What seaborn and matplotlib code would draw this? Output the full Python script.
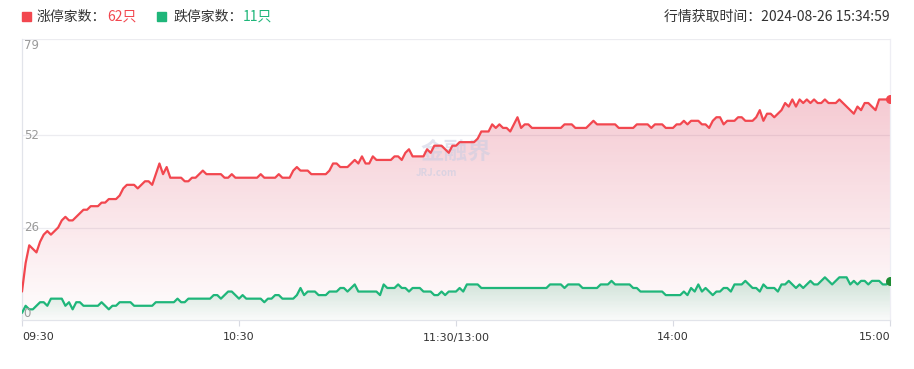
import numpy as np
import pandas as pd
import seaborn as sns
import matplotlib.pyplot as plt
from matplotlib.patches import Polygon

# minute-by-minute counts, 09:30 .. 11:30 / 13:01 .. 15:00 (241 points)
limit_up = [
    8, 16, 21, 20, 19, 22, 24, 25, 24, 25,
    26, 28, 29, 28, 28, 29, 30, 31, 31, 32,
    32, 32, 33, 33, 34, 34, 34, 35, 37, 38,
    38, 38, 37, 38, 39, 39, 38, 41, 44, 41,
    43, 40, 40, 40, 40, 39, 39, 40, 40, 41,
    42, 41, 41, 41, 41, 41, 40, 40, 41, 40,
    40, 40, 40, 40, 40, 40, 41, 40, 40, 40,
    40, 41, 40, 40, 40, 42, 43, 42, 42, 42,
    41, 41, 41, 41, 41, 42, 44, 44, 43, 43,
    43, 44, 45, 44, 46, 44, 44, 46, 45, 45,
    45, 45, 45, 46, 46, 45, 47, 48, 46, 46,
    46, 46, 48, 47, 49, 49, 49, 48, 47, 49,
    49, 50, 50, 50, 50, 50, 51, 53, 53, 53,
    55, 54, 55, 54, 54, 53, 55, 57, 54, 55,
    55, 54, 54, 54, 54, 54, 54, 54, 54, 54,
    55, 55, 55, 54, 54, 54, 54, 55, 56, 55,
    55, 55, 55, 55, 55, 54, 54, 54, 54, 54,
    55, 55, 55, 55, 54, 55, 55, 55, 54, 54,
    54, 55, 55, 56, 55, 56, 56, 56, 55, 55,
    54, 56, 57, 57, 55, 56, 56, 56, 57, 57,
    56, 56, 56, 57, 59, 56, 58, 58, 57, 58,
    59, 61, 60, 62, 60, 62, 61, 62, 61, 62,
    61, 61, 62, 61, 61, 61, 62, 61, 60, 59,
    58, 60, 59, 61, 61, 60, 59, 62, 62, 62, 62,
]
limit_down = [
    2, 4, 3, 3, 4, 5, 5, 4, 6, 6,
    6, 6, 4, 5, 3, 5, 5, 4, 4, 4,
    4, 4, 5, 4, 3, 4, 4, 5, 5, 5,
    5, 4, 4, 4, 4, 4, 4, 5, 5, 5,
    5, 5, 5, 6, 5, 5, 6, 6, 6, 6,
    6, 6, 6, 7, 7, 6, 7, 8, 8, 7,
    6, 7, 6, 6, 6, 6, 6, 5, 6, 6,
    7, 7, 6, 6, 6, 6, 7, 9, 7, 8,
    8, 8, 7, 7, 7, 8, 8, 8, 9, 9,
    8, 9, 10, 8, 8, 8, 8, 8, 8, 7,
    10, 9, 9, 9, 10, 9, 9, 8, 9, 9,
    9, 8, 8, 8, 7, 7, 8, 7, 8, 8,
    8, 9, 8, 10, 10, 10, 10, 9, 9, 9,
    9, 9, 9, 9, 9, 9, 9, 9, 9, 9,
    9, 9, 9, 9, 9, 9, 10, 10, 10, 10,
    9, 10, 10, 10, 10, 9, 9, 9, 9, 9,
    10, 10, 10, 11, 10, 10, 10, 10, 10, 9,
    9, 8, 8, 8, 8, 8, 8, 8, 7, 7,
    7, 7, 7, 8, 7, 9, 8, 10, 8, 9,
    8, 7, 8, 8, 9, 9, 8, 10, 10, 10,
    11, 10, 9, 9, 8, 10, 9, 9, 9, 8,
    10, 10, 11, 10, 9, 10, 9, 10, 11, 10,
    10, 11, 12, 11, 10, 11, 12, 12, 12, 10,
    11, 10, 11, 11, 10, 11, 11, 11, 10, 10, 11,
]
x_tick_pos = [0, 60, 120, 180, 240]
x_tick_labels = ["09:30", "10:30", "11:30/13:00", "14:00", "15:00"]
y_ticks = [0, 26, 52, 79]
fetch_time = "2024-08-26 15:34:59"

RED = "#f2474f"
GREEN = "#1fb67a"

sns.set_theme(style="white")
plt.rcParams['font.family'] = ['Noto Sans CJK SC', 'DejaVu Sans']

df = pd.DataFrame({"idx": np.arange(len(limit_up)), "up": limit_up, "down": limit_down})

W, H = 914, 369
fig = plt.figure(figsize=(W / 100, H / 100), dpi=100)
ax = fig.add_axes([22 / W, 1 - 320 / H, 868 / W, 281 / H])


def gradient_area(ax, x, y, rgb, a_top, a_bot, z):
    verts = [(x[0], 0)] + list(zip(x, y)) + [(x[-1], 0)]
    poly = Polygon(verts, closed=True, facecolor="none", edgecolor="none")
    ax.add_patch(poly)
    grad = np.zeros((256, 1, 4))
    grad[:, 0, :3] = rgb
    grad[:, 0, 3] = np.linspace(a_bot, a_top, 256)
    im = ax.imshow(grad, extent=[x[0], x[-1], 0, max(y)], origin="lower",
                   aspect="auto", zorder=z, interpolation="bilinear")
    im.set_clip_path(poly)


gradient_area(ax, df["idx"].values, df["up"].values, (0.86, 0.24, 0.36), 0.27, 0.01, 1)
gradient_area(ax, df["idx"].values, df["down"].values, (0.12, 0.62, 0.40), 0.22, 0.02, 2)
ax.set_xlim(0, 240)
ax.set_ylim(0, 79)

sns.lineplot(data=df, x="idx", y="up", color=RED, lw=1.6, ax=ax, zorder=4)
sns.lineplot(data=df, x="idx", y="down", color=GREEN, lw=1.6, ax=ax, zorder=4)
ax.scatter([df["idx"].iloc[-1]], [limit_up[-1]], s=30, color=RED, zorder=5, clip_on=True)
ax.scatter([df["idx"].iloc[-1]], [limit_down[-1]], s=30, color="#1e8c34", zorder=5, clip_on=True)

# grid and frame
for v in y_ticks[1:]:
    ax.axhline(v, color="#ececf0", lw=0.9, zorder=0.5)
for s in ["left", "bottom", "right"]:
    ax.spines[s].set_color("#e2e4ea")
    ax.spines[s].set_linewidth(0.9)
ax.spines["top"].set_visible(False)
ax.spines["right"].set_color("#eeeef4")

# y labels drawn inside the plot
ytr = ax.get_yaxis_transform()
for v in y_ticks:
    va = "top" if v == max(y_ticks) else ("bottom" if v == 0 else "center")
    ax.text(0.002, v, str(v), transform=ytr, ha="left", va=va,
            fontsize=8.5, color="#9a9a9a", family="DejaVu Sans", zorder=6)
ax.set_yticks([])
ax.set_ylabel("")
ax.set_xlabel("")

ax.set_xticks(x_tick_pos)
ax.set_xticklabels(x_tick_labels, fontsize=8, color="#333333", family="DejaVu Sans")
ax.tick_params(axis="x", length=4, width=0.8, color="#d8dae2", pad=5, bottom=True)
labels = ax.get_xticklabels()
labels[0].set_ha("left")
labels[-1].set_ha("right")

# watermark
ax.text(456 / W, 1 - 152 / H, "金融界", transform=fig.transFigure, ha="center", va="center",
        fontsize=17, fontweight="bold", color="#c9cde2", alpha=0.55, zorder=3)
ax.text(436 / W, 1 - 173 / H, "JRJ.com", transform=fig.transFigure, ha="center", va="center",
        fontsize=7, fontweight="bold", color="#c9cde2", alpha=0.6, zorder=3)

# header legend
yc = 1 - 16.5 / H
fig.patches.append(plt.Rectangle((22 / W, 1 - 21 / H), 9 / W, 9 / H, transform=fig.transFigure,
                                 color=RED, figure=fig))
fig.text(37 / W, yc, "涨停家数：", fontsize=10, color="#333333", va="center")
fig.text(107 / W, yc, f"{limit_up[-1]}只", fontsize=10, color=RED, va="center")
fig.patches.append(plt.Rectangle((157 / W, 1 - 21 / H), 9 / W, 9 / H, transform=fig.transFigure,
                                 color=GREEN, figure=fig))
fig.text(173 / W, yc, "跌停家数：", fontsize=10, color="#333333", va="center")
fig.text(243 / W, yc, f"{limit_down[-1]}只", fontsize=10, color=GREEN, va="center")
fig.text(890 / W, yc, f"行情获取时间：{fetch_time}", fontsize=10, color="#333333",
         va="center", ha="right")

fig.savefig("out.png", dpi=100)
